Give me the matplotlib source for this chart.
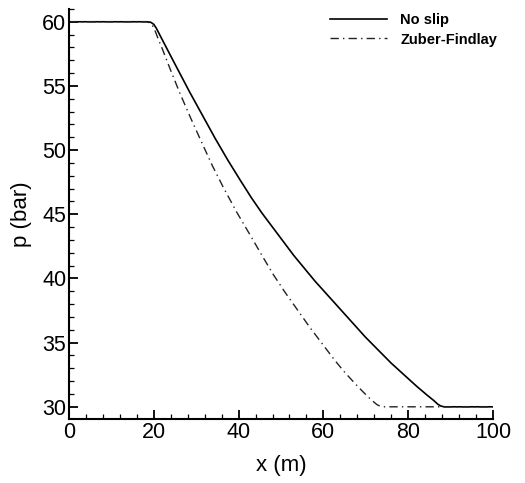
import matplotlib.pyplot as plt
from matplotlib.ticker import MultipleLocator

plt.rcParams['font.family'] = ['Liberation Sans', 'DejaVu Sans']

# No slip curve
x_noslip = [0, 18.5, 19.3, 20.0, 20.6, 21.3, 22.0, 25.0, 28.5, 31.5, 34.5,
            37.5, 40.5, 43.0, 45.5, 48.0, 50.5, 53.0, 55.5, 58.0, 61.0,
            64.0, 67.0, 70.0, 73.0, 76.0, 79.0, 82.0, 84.5, 86.0, 87.0,
            87.7, 88.5, 100]
p_noslip = [60, 60, 59.96, 59.8, 59.5, 59.05, 58.6, 56.7, 54.5, 52.7, 50.9,
            49.2, 47.6, 46.3, 45.1, 44.0, 42.9, 41.8, 40.8, 39.8, 38.7,
            37.6, 36.5, 35.4, 34.4, 33.4, 32.5, 31.6, 30.9, 30.5, 30.2,
            30.06, 30.0, 30]

# Zuber-Findlay curve
x_zf = [0, 18.2, 19.0, 19.7, 20.3, 21.0, 22.0, 24.0, 26.2, 28.7, 31.3,
        33.8, 36.4, 39.5, 42.7, 45.5, 48.2, 51.0, 54.0, 57.0, 60.0, 62.5,
        65.0, 67.5, 69.4, 70.8, 71.8, 72.6, 73.3, 74.2, 100]
p_zf = [60, 60, 59.93, 59.7, 59.3, 58.7, 57.9, 56.2, 54.4, 52.5, 50.6,
        48.8, 47.1, 45.2, 43.4, 41.8, 40.3, 38.9, 37.5, 36.1, 34.8, 33.7,
        32.7, 31.8, 31.15, 30.7, 30.4, 30.18, 30.06, 30.0, 30]

fig = plt.figure(figsize=(5.25, 4.83), dpi=100)
ax = fig.add_axes([0.1314, 0.1325, 0.8076, 0.849])

ax.plot(x_noslip, p_noslip, 'k-', lw=1.2, label='No slip')
ax.plot(x_zf, p_zf, color='#222222', lw=1.0, linestyle=(0, (6, 3, 1, 3)),
        label='Zuber-Findlay')

ax.set_xlim(0, 100)
ax.set_ylim(29.05, 61.0)
ax.xaxis.set_major_locator(MultipleLocator(20))
ax.xaxis.set_minor_locator(MultipleLocator(4))
ax.yaxis.set_major_locator(MultipleLocator(5))
ax.yaxis.set_minor_locator(MultipleLocator(1))

ax.spines['top'].set_visible(False)
ax.spines['right'].set_visible(False)
ax.spines['left'].set_linewidth(1.5)
ax.spines['bottom'].set_linewidth(1.5)
ax.tick_params(which='major', direction='in', length=6.5, width=1.3,
               labelsize=15.5, pad=2)
ax.tick_params(which='minor', direction='in', length=3.6, width=0.9)

ax.set_xlabel('x (m)', fontsize=16, labelpad=9)
ax.set_ylabel('p (bar)', fontsize=16, labelpad=7)

ax.legend(loc='upper right', bbox_to_anchor=(1.024, 1.005), frameon=False,
          prop={'weight': 'bold', 'size': 10.5}, handlelength=3.9,
          handletextpad=0.9, labelspacing=0.4, borderaxespad=0.0)

fig.savefig('out.png', dpi=100)
